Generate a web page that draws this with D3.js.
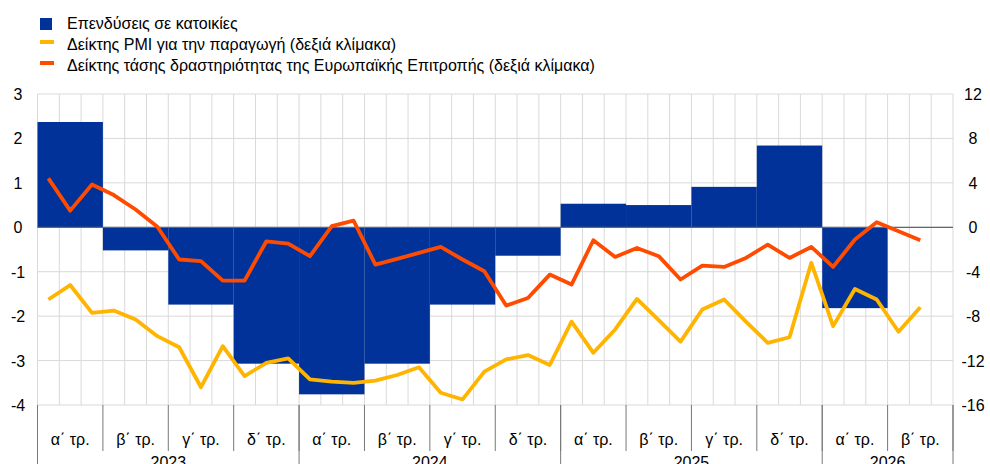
<!DOCTYPE html>
<html>
<head>
<meta charset="utf-8">
<script src="https://cdn.jsdelivr.net/npm/d3@7"></script>
<style>
  body { margin: 0; background: #fff; }
  svg { display: block; font-family: "Liberation Sans", Arial, sans-serif; }
</style>
</head>
<body>
<script>
// chart size
var width = 990,
    height = 464;
var plotLeft = 37.5, plotRight = 953, plotTop = 94, plotBottom = 405;

// quarter labels, years
var quarters = ["α΄ τρ.", "β΄ τρ.", "γ΄ τρ.", "δ΄ τρ.",
                "α΄ τρ.", "β΄ τρ.", "γ΄ τρ.", "δ΄ τρ.",
                "α΄ τρ.", "β΄ τρ.", "γ΄ τρ.", "δ΄ τρ.",
                "α΄ τρ.", "β΄ τρ."];
var years = ["2023", "2024", "2025", "2026"];
var yearQuarters = [4, 4, 4, 2];

// housing investment, quarterly (left scale)
var housing = [2.37, -0.52, -1.74, -3.07, -3.76, -3.07, -1.74, -0.64,
               0.53, 0.5, 0.91, 1.84, -1.82, 0];

// PMI, monthly (right scale)
var pmi = [-6.5, -5.2, -7.7, -7.5, -8.3, -9.8, -10.8, -14.4, -10.7, -13.4,
           -12.2, -11.8, -13.7, -13.9, -14.0, -13.8, -13.3, -12.6, -14.9, -15.5,
           -13.0, -11.9, -11.5, -12.4, -8.5, -11.3, -9.2, -6.45, -8.35, -10.3,
           -7.4, -6.5, -8.5, -10.4, -9.9, -3.2, -8.9, -5.55, -6.5, -9.4, -7.2];

// European Commission activity indicator, monthly (right scale)
var ecInd = [4.4, 1.5, 3.85, 2.9, 1.6, 0.05, -2.9, -3.05, -4.8, -4.8,
             -1.26, -1.47, -2.6, 0.1, 0.6, -3.36, -2.85, -2.3, -1.77, -2.9,
             -3.96, -7.05, -6.36, -4.26, -5.16, -1.17, -2.67, -1.86, -2.6, -4.7,
             -3.45, -3.57, -2.76, -1.56, -2.76, -1.77, -3.57, -1.1, 0.45, -0.36, -1.17];

var nMonths = quarters.length * 3;

var svg = d3.select("body").append("svg")
    .attr("width", width)
    .attr("height", height);

var x = d3.scaleLinear().domain([0, nMonths]).range([plotLeft, plotRight]);
var yL = d3.scaleLinear().domain([-4, 3]).range([plotBottom, plotTop]);
var yR = d3.scaleLinear().domain([-16, 12]).range([plotBottom, plotTop]);

//gridlines
var grid = svg.append("g");
grid.selectAll(".vg")
    .data(d3.range(0, nMonths + 1))
    .enter().append("line")
    .attr("x1", d => x(d)).attr("x2", d => x(d))
    .attr("y1", plotTop).attr("y2", plotBottom)
    .attr("stroke", "#d9d9d9").attr("stroke-width", 1);
grid.selectAll(".hg")
    .data(d3.range(-4, 4))
    .enter().append("line")
    .attr("x1", plotLeft).attr("x2", plotRight)
    .attr("y1", d => yL(d)).attr("y2", d => yL(d))
    .attr("stroke", "#d9d9d9").attr("stroke-width", 1);

//bars
svg.selectAll(".bar")
    .data(housing)
    .enter().append("rect")
    .attr("x", (d, i) => x(i * 3))
    .attr("width", x(3) - x(0))
    .attr("y", d => yL(Math.max(0, d)))
    .attr("height", d => Math.abs(yL(d) - yL(0)))
    .attr("fill", "#003299");

//zero line
svg.append("line")
    .attr("x1", plotLeft).attr("x2", plotRight)
    .attr("y1", yL(0)).attr("y2", yL(0))
    .attr("stroke", "#666").attr("stroke-width", 1.2);

//lines
var line = d3.line()
    .x((d, i) => x(i + 0.5))
    .y(d => yR(d));

svg.append("path").datum(pmi)
    .attr("d", line)
    .attr("fill", "none")
    .attr("stroke", "#FFB400")
    .attr("stroke-width", 3.8)
    .attr("stroke-linejoin", "round");

svg.append("path").datum(ecInd)
    .attr("d", line)
    .attr("fill", "none")
    .attr("stroke", "#FF4B00")
    .attr("stroke-width", 3.8)
    .attr("stroke-linejoin", "round");

//left axis labels
svg.selectAll(".yl")
    .data(d3.range(-4, 4))
    .enter().append("text")
    .attr("x", 18).attr("y", d => yL(d) + 6)
    .attr("text-anchor", "middle")
    .style("font-size", "16px")
    .attr("fill", "#000")
    .text(d => d);

//right axis labels
svg.selectAll(".yr")
    .data(d3.range(-16, 13, 4))
    .enter().append("text")
    .attr("x", 973).attr("y", d => yR(d) + 6)
    .attr("text-anchor", "middle")
    .style("font-size", "16px")
    .attr("fill", "#000")
    .text(d => d);

//x axis: quarter ticks and labels
var qTicks = d3.range(0, quarters.length + 1);
svg.selectAll(".qt")
    .data(qTicks)
    .enter().append("line")
    .attr("x1", d => x(d * 3)).attr("x2", d => x(d * 3))
    .attr("y1", plotBottom).attr("y2", 451)
    .attr("stroke", "#777").attr("stroke-width", 1);

svg.selectAll(".ql")
    .data(quarters)
    .enter().append("text")
    .attr("x", (d, i) => x(i * 3 + 1.5))
    .attr("y", 445)
    .attr("text-anchor", "middle")
    .style("font-size", "16px")
    .attr("fill", "#000")
    .text(d => d);

//year ticks and labels
var yStart = [0];
yearQuarters.forEach((q, i) => yStart.push(yStart[i] + q));
svg.selectAll(".yt")
    .data(yStart)
    .enter().append("line")
    .attr("x1", d => x(d * 3)).attr("x2", d => x(d * 3))
    .attr("y1", plotBottom).attr("y2", height)
    .attr("stroke", "#777").attr("stroke-width", 1);

svg.selectAll(".yrl")
    .data(years)
    .enter().append("text")
    .attr("x", (d, i) => x((yStart[i] + yearQuarters[i] / 2) * 3))
    .attr("y", 468)
    .attr("text-anchor", "middle")
    .style("font-size", "16px")
    .attr("fill", "#000")
    .text(d => d);

//legend
var legend = svg.append("g");
legend.append("rect")
    .attr("x", 40).attr("y", 18).attr("width", 12).attr("height", 12)
    .attr("fill", "#003299");
legend.append("rect")
    .attr("x", 40).attr("y", 40).attr("width", 14).attr("height", 4)
    .attr("fill", "#FFB400");
legend.append("rect")
    .attr("x", 40).attr("y", 61).attr("width", 14).attr("height", 4)
    .attr("fill", "#FF4B00");
var legendTexts = ["Επενδύσεις σε κατοικίες",
                   "Δείκτης PMI για την παραγωγή (δεξιά κλίμακα)",
                   "Δείκτης τάσης δραστηριότητας της Ευρωπαϊκής Επιτροπής (δεξιά κλίμακα)"];
legend.selectAll("text")
    .data(legendTexts)
    .enter().append("text")
    .attr("x", 67)
    .attr("y", (d, i) => 29 + i * 21)
    .style("font-size", "16px")
    .attr("fill", "#000")
    .text(d => d);
</script>
</body>
</html>
